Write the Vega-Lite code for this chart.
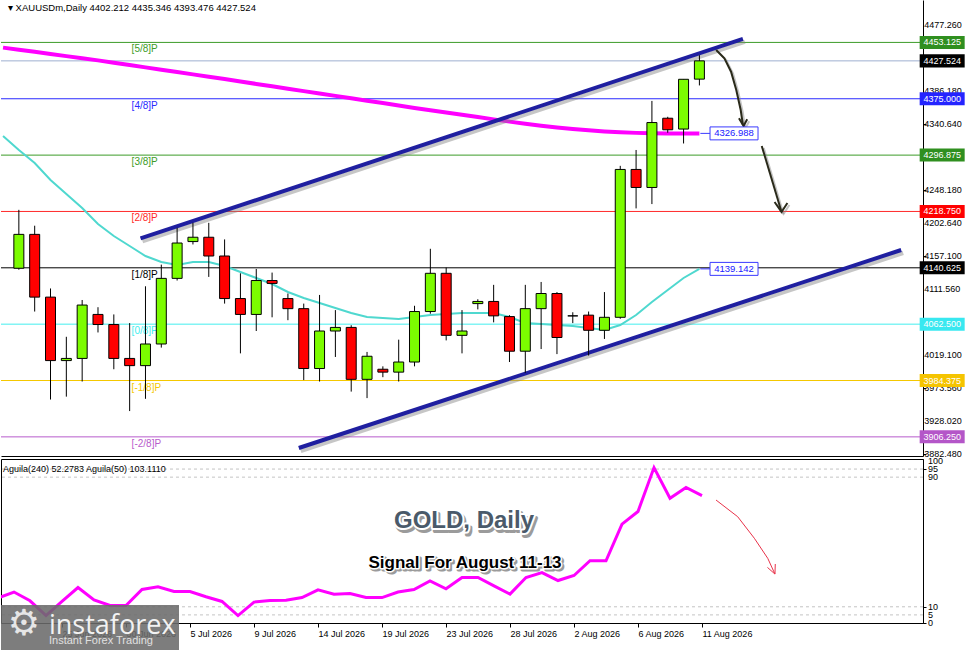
{
"$schema":"https://vega.github.io/schema/vega-lite/v6.json",
"background":"#ffffff",
"padding":0,
"bounds":"flush",
"spacing":3,
"config":{"view":{"stroke":null},"font":"Liberation Sans"},
"datasets":{
"murrey":[
{"lvl":"p5","lab":"[5/8]P","price":4453.125},
{"lvl":"p4","lab":"[4/8]P","price":4375.0},
{"lvl":"p3","lab":"[3/8]P","price":4296.875},
{"lvl":"p2","lab":"[2/8]P","price":4218.75},
{"lvl":"p1","lab":"[1/8]P","price":4140.625},
{"lvl":"p0","lab":"[0/8]P","price":4062.5},
{"lvl":"m1","lab":"[-1/8]P","price":3984.375},
{"lvl":"m2","lab":"[-2/8]P","price":3906.25},
{"lvl":"cur","lab":"","price":4427.524}],
"ylabels":[{"p":4477.26},{"p":4431.72},{"p":4386.18},{"p":4340.64},{"p":4294.4},{"p":4248.18},{"p":4202.64},{"p":4157.1},{"p":4111.56},{"p":4065.3},{"p":4019.1},{"p":3973.56},{"p":3928.02},{"p":3882.48}],
"candles":[
{"i":0,"open":4140,"high":4221,"low":4138,"close":4187},
{"i":1,"open":4187,"high":4199,"low":4080,"close":4100},
{"i":2,"open":4100,"high":4112,"low":3958,"close":4012},
{"i":3,"open":4012,"high":4045,"low":3962,"close":4015},
{"i":4,"open":4015,"high":4096,"low":3983,"close":4089},
{"i":5,"open":4076,"high":4086,"low":4051,"close":4062},
{"i":6,"open":4062,"high":4076,"low":4000,"close":4015},
{"i":7,"open":4015,"high":4064,"low":3942,"close":4005},
{"i":8,"open":4005,"high":4115,"low":3959,"close":4035},
{"i":9,"open":4035,"high":4145,"low":4030,"close":4126},
{"i":10,"open":4126,"high":4196,"low":4123,"close":4175},
{"i":11,"open":4177,"high":4203,"low":4173,"close":4183},
{"i":12,"open":4183,"high":4203,"low":4128,"close":4157},
{"i":13,"open":4157,"high":4180,"low":4091,"close":4098},
{"i":14,"open":4098,"high":4133,"low":4022,"close":4076},
{"i":15,"open":4076,"high":4139,"low":4053,"close":4123},
{"i":16,"open":4123,"high":4134,"low":4072,"close":4119},
{"i":17,"open":4098,"high":4105,"low":4068,"close":4084},
{"i":18,"open":4084,"high":4091,"low":3985,"close":4001},
{"i":19,"open":4001,"high":4103,"low":3983,"close":4053},
{"i":20,"open":4053,"high":4082,"low":4017,"close":4058},
{"i":21,"open":4058,"high":4061,"low":3969,"close":3986},
{"i":22,"open":3986,"high":4024,"low":3960,"close":4018},
{"i":23,"open":4000,"high":4004,"low":3989,"close":3996},
{"i":24,"open":3996,"high":4041,"low":3983,"close":4010},
{"i":25,"open":4010,"high":4088,"low":4004,"close":4080},
{"i":26,"open":4080,"high":4167,"low":4077,"close":4133},
{"i":27,"open":4133,"high":4141,"low":4040,"close":4047},
{"i":28,"open":4047,"high":4082,"low":4022,"close":4053},
{"i":29,"open":4091,"high":4097,"low":4083,"close":4094},
{"i":30,"open":4094,"high":4117,"low":4065,"close":4074},
{"i":31,"open":4073,"high":4075,"low":4010,"close":4025},
{"i":32,"open":4025,"high":4117,"low":3995,"close":4084},
{"i":33,"open":4084,"high":4121,"low":4028,"close":4105},
{"i":34,"open":4105,"high":4107,"low":4021,"close":4044},
{"i":35,"open":4074,"high":4079,"low":4064,"close":4074},
{"i":36,"open":4075,"high":4080,"low":4019,"close":4054},
{"i":37,"open":4054,"high":4107,"low":4042,"close":4072},
{"i":38,"open":4072,"high":4282,"low":4070,"close":4277},
{"i":39,"open":4277,"high":4304,"low":4223,"close":4252},
{"i":40,"open":4252,"high":4372,"low":4229,"close":4342},
{"i":41,"open":4348,"high":4350,"low":4328,"close":4332},
{"i":42,"open":4333,"high":4402,"low":4313,"close":4402},
{"i":43,"open":4402.212,"high":4435.346,"low":4393.476,"close":4427.524}],
"ma":[
{"i":-1,"m":4445.9,"c":4323.4},{"i":0,"m":4443.0,"c":4304.0},{"i":1,"m":4440.1,"c":4285.9},
{"i":2,"m":4437.1,"c":4262.4},{"i":3,"m":4434.1,"c":4243.0},{"i":4,"m":4431.2,"c":4223.6},
{"i":5,"m":4428.2,"c":4201.4},{"i":6,"m":4424.9,"c":4184.7},{"i":7,"m":4421.7,"c":4170.9},
{"i":8,"m":4418.5,"c":4157.0},{"i":9,"m":4415.1,"c":4148.7},{"i":10,"m":4412.0,"c":4144.5},
{"i":11,"m":4408.8,"c":4148.7},{"i":12,"m":4405.6,"c":4148.7},{"i":13,"m":4402.3,"c":4143.1},
{"i":14,"m":4398.9,"c":4134.8},{"i":15,"m":4395.6,"c":4126.5},{"i":16,"m":4392.3,"c":4118.2},
{"i":17,"m":4389.0,"c":4107.1},{"i":18,"m":4385.6,"c":4098.8},{"i":19,"m":4382.3,"c":4091.8},
{"i":20,"m":4379.0,"c":4084.9},{"i":21,"m":4375.6,"c":4078.0},{"i":22,"m":4372.3,"c":4072.4},
{"i":23,"m":4369.0,"c":4071.0},{"i":24,"m":4365.7,"c":4069.7},{"i":25,"m":4362.3,"c":4072.4},
{"i":26,"m":4359.1,"c":4075.2},{"i":27,"m":4356.0,"c":4076.6},{"i":28,"m":4352.8,"c":4078.0},
{"i":29,"m":4349.6,"c":4078.0},{"i":30,"m":4346.4,"c":4078.0},{"i":31,"m":4343.3,"c":4072.4},
{"i":32,"m":4340.4,"c":4064.1},{"i":33,"m":4337.6,"c":4062.7},{"i":34,"m":4335.2,"c":4061.3},
{"i":35,"m":4333.1,"c":4060.0},{"i":36,"m":4331.3,"c":4057.2},{"i":37,"m":4329.7,"c":4054.4},
{"i":38,"m":4328.5,"c":4061.3},{"i":39,"m":4327.7,"c":4075.2},{"i":40,"m":4327.3,"c":4093.2},
{"i":41,"m":4327.0,"c":4109.9},{"i":42,"m":4327.0,"c":4126.5},{"i":43,"m":4326.988,"c":4139.142}],
"trend":[
{"line":"up","i":7.6875,"p":4181.3},{"line":"up","i":45.75,"p":4457.9},
{"line":"lo","i":17.6875,"p":3890.8},{"line":"lo","i":55.75,"p":4165.3}],
"arrows":[
{"a":"a1","o":0,"i":44.06,"p":4442.6},{"a":"a1","o":1,"i":44.58,"p":4431.1},{"a":"a1","o":2,"i":45.0,"p":4412.5},
{"a":"a1","o":3,"i":45.33,"p":4387.1},{"a":"a1","o":4,"i":45.61,"p":4359.4},{"a":"a1","o":5,"i":45.75,"p":4338.6},
{"a":"h1","o":0,"i":45.5,"p":4347.9},{"a":"h1","o":1,"i":45.79,"p":4337.2},{"a":"h1","o":2,"i":46.02,"p":4346.5},
{"a":"a2","o":0,"i":46.94,"p":4309.5},{"a":"a2","o":1,"i":48.19,"p":4218.0},
{"a":"h2","o":0,"i":47.75,"p":4231.9},{"a":"h2","o":1,"i":48.19,"p":4218.0},{"a":"h2","o":2,"i":48.56,"p":4230.5}],
"mabox":[{"val":4326.988},{"val":4139.142}],
"indlabels":[{"lv":100,"t":"100"},{"lv":95,"t":"95"},{"lv":90,"t":"90"},{"lv":10,"t":"10"},{"lv":5,"t":"5"},{"lv":0,"t":"0"}],
"aguila":[
{"i":-1,"v":15.4},{"i":0,"v":19.1},{"i":1,"v":13.7},{"i":2,"v":4.6},{"i":3,"v":13.3},{"i":4,"v":21.9},
{"i":5,"v":14.3},{"i":6,"v":10.8},{"i":7,"v":10.8},{"i":8,"v":20.7},{"i":9,"v":22.3},{"i":10,"v":19.4},
{"i":11,"v":19.4},{"i":12,"v":16.2},{"i":13,"v":13.3},{"i":14,"v":4.6},{"i":15,"v":12.9},{"i":16,"v":13.9},
{"i":17,"v":14.1},{"i":18,"v":15.7},{"i":19,"v":20.5},{"i":20,"v":17.8},{"i":21,"v":18.2},{"i":22,"v":15.7},
{"i":23,"v":15.7},{"i":24,"v":19.1},{"i":25,"v":20.7},{"i":26,"v":26.0},{"i":27,"v":21.1},{"i":28,"v":28.1},
{"i":29,"v":28.1},{"i":30,"v":22.9},{"i":31,"v":17.8},{"i":32,"v":28.1},{"i":33,"v":31.1},{"i":34,"v":26.2},
{"i":35,"v":29.3},{"i":36,"v":38.4},{"i":37,"v":38.4},{"i":38,"v":61.0},{"i":39,"v":68.8},{"i":40,"v":95.9},
{"i":41,"v":77.0},{"i":42,"v":83.6},{"i":43,"v":78.6}],
"redarrow":[
{"a":"r1","o":0,"i":43.875,"v":75.9},{"a":"r1","o":1,"i":45.23,"v":65.6},{"a":"r1","o":2,"i":46.27,"v":52.3},
{"a":"r1","o":3,"i":47.11,"v":39.9},{"a":"r1","o":4,"i":47.56,"v":30.2},
{"a":"rh","o":0,"i":47.09,"v":34.3},{"a":"rh","o":1,"i":47.56,"v":30.2},{"a":"rh","o":2,"i":47.58,"v":36.4}]
},
"vconcat":[
{
"width":922,"height":456,
"layer":[
{"data":{"name":"murrey"},"mark":{"type":"rule","strokeWidth":1},
 "encoding":{
  "y":{"field":"price","type":"quantitative","scale":{"domain":[3879.72,4511.92],"nice":false,"zero":false},"title":null,
   "axis":{"orient":"right","values":[4477.26,4431.72,4386.18,4340.64,4294.4,4248.18,4202.64,4157.1,4111.56,4065.3,4019.1,3973.56,3928.02,3882.48],"labels":false,"tickColor":"#000","tickSize":3,"domainColor":"#000","grid":false,"title":null}},
  "stroke":{"field":"lvl","type":"nominal","scale":{"domain":["p5","p4","p3","p2","p1","p0","m1","m2","cur"],"range":["#3c9c28","#2a2aff","#3c9c28","#ff2a2a","#000000","#44eeee","#f5c800","#b85ccc","#9fb0d0"]},"legend":null}}},
{"data":{"name":"ylabels"},"mark":{"type":"text","color":"#000","fontSize":9,"font":"Liberation Sans","align":"left","baseline":"middle","clip":false},
 "encoding":{"x":{"datum":57.2,"type":"quantitative","scale":{"domain":[-0.8125,56.8125],"nice":false,"zero":false}},
  "y":{"field":"p","type":"quantitative","scale":{"domain":[3879.72,4511.92],"nice":false,"zero":false},"title":null},
  "text":{"field":"p","format":".3f"}}},
{"data":{"name":"murrey"},"transform":[{"filter":"datum.lvl != 'cur'"}],
 "mark":{"type":"text","align":"left","baseline":"middle","dy":7,"fontSize":10,"font":"Liberation Sans"},
 "encoding":{"x":{"datum":7.125,"type":"quantitative","scale":{"domain":[-0.8125,56.8125],"nice":false,"zero":false}},
  "y":{"field":"price","type":"quantitative","scale":{"domain":[3879.72,4511.92],"nice":false,"zero":false},"title":null},
  "text":{"field":"lab"},
  "color":{"field":"lvl","type":"nominal","scale":{"domain":["p5","p4","p3","p2","p1","p0","m1","m2"],"range":["#3c9c28","#2a2aff","#3c9c28","#ff2a2a","#000000","#44eeee","#f5c800","#b85ccc"]},"legend":null}}},
{"data":{"name":"ma"},"mark":{"type":"line","color":"#ff00ff","strokeWidth":4,"clip":true},
 "encoding":{"x":{"field":"i","type":"quantitative","scale":{"domain":[-0.8125,56.8125],"nice":false,"zero":false},"title":null},
  "y":{"field":"m","type":"quantitative","scale":{"domain":[3879.72,4511.92],"nice":false,"zero":false},"title":null}}},
{"data":{"name":"ma"},"mark":{"type":"line","color":"#4fd8cf","strokeWidth":2,"clip":true},
 "encoding":{"x":{"field":"i","type":"quantitative","scale":{"domain":[-0.8125,56.8125],"nice":false,"zero":false},"title":null},
  "y":{"field":"c","type":"quantitative","scale":{"domain":[3879.72,4511.92],"nice":false,"zero":false},"title":null}}},
{"data":{"name":"trend"},"mark":{"type":"line","color":"#808080","opacity":0.45,"strokeWidth":4,"xOffset":2,"yOffset":3,"clip":true},
 "encoding":{"x":{"field":"i","type":"quantitative","scale":{"domain":[-0.8125,56.8125],"nice":false,"zero":false},"title":null},
  "y":{"field":"p","type":"quantitative","scale":{"domain":[3879.72,4511.92],"nice":false,"zero":false},"title":null},
  "detail":{"field":"line"}}},
{"data":{"name":"trend"},"mark":{"type":"line","color":"#1f1fa0","strokeWidth":4,"clip":true},
 "encoding":{"x":{"field":"i","type":"quantitative","scale":{"domain":[-0.8125,56.8125],"nice":false,"zero":false},"title":null},
  "y":{"field":"p","type":"quantitative","scale":{"domain":[3879.72,4511.92],"nice":false,"zero":false},"title":null},
  "detail":{"field":"line"}}},
{"data":{"name":"candles"},"mark":{"type":"rule","color":"#000","strokeWidth":1,"clip":true},
 "encoding":{"x":{"field":"i","type":"quantitative","scale":{"domain":[-0.8125,56.8125],"nice":false,"zero":false},"title":null,
   "axis":{"orient":"bottom","labels":false,"ticks":false,"domain":true,"domainColor":"#000","grid":false,"title":null}},
  "y":{"field":"low","type":"quantitative","scale":{"domain":[3879.72,4511.92],"nice":false,"zero":false},"title":null},
  "y2":{"field":"high"}}},
{"data":{"name":"candles"},"mark":{"type":"bar","size":10,"stroke":"#000","strokeWidth":1,"clip":true},
 "encoding":{"x":{"field":"i","type":"quantitative","scale":{"domain":[-0.8125,56.8125],"nice":false,"zero":false},"title":null},
  "y":{"field":"open","type":"quantitative","scale":{"domain":[3879.72,4511.92],"nice":false,"zero":false},"title":null},
  "y2":{"field":"close"},
  "fill":{"condition":{"test":"datum.close >= datum.open","value":"#7cfc00"},"value":"#ff0000"}}},
{"data":{"name":"arrows"},"mark":{"type":"line","color":"#8a8a8a","opacity":0.5,"strokeWidth":2,"xOffset":2,"yOffset":2},
 "encoding":{"x":{"field":"i","type":"quantitative","scale":{"domain":[-0.8125,56.8125],"nice":false,"zero":false},"title":null},
  "y":{"field":"p","type":"quantitative","scale":{"domain":[3879.72,4511.92],"nice":false,"zero":false},"title":null},
  "detail":{"field":"a"},"order":{"field":"o"}}},
{"data":{"name":"arrows"},"mark":{"type":"line","color":"#2a2a1a","strokeWidth":2},
 "encoding":{"x":{"field":"i","type":"quantitative","scale":{"domain":[-0.8125,56.8125],"nice":false,"zero":false},"title":null},
  "y":{"field":"p","type":"quantitative","scale":{"domain":[3879.72,4511.92],"nice":false,"zero":false},"title":null},
  "detail":{"field":"a"},"order":{"field":"o"}}},
{"data":{"name":"mabox"},"mark":{"type":"rule","color":"#3a3aff","strokeWidth":1},
 "encoding":{"x":{"datum":43.06,"type":"quantitative","scale":{"domain":[-0.8125,56.8125],"nice":false,"zero":false}},"x2":{"datum":43.69},
  "y":{"field":"val","type":"quantitative","scale":{"domain":[3879.72,4511.92],"nice":false,"zero":false},"title":null}}},
{"data":{"name":"mabox"},"mark":{"type":"point","shape":"M-1,-0.27L1,-0.27L1,0.27L-1,0.27Z","size":2304,"filled":true,"fill":"#ffffff","stroke":"#3a3aff","strokeWidth":1,"opacity":1},
 "encoding":{"x":{"datum":45.1875,"type":"quantitative","scale":{"domain":[-0.8125,56.8125],"nice":false,"zero":false}},
  "y":{"field":"val","type":"quantitative","scale":{"domain":[3879.72,4511.92],"nice":false,"zero":false},"title":null}}},
{"data":{"name":"mabox"},"mark":{"type":"text","color":"#2020ff","fontSize":9.5,"font":"Liberation Sans","align":"center","baseline":"middle"},
 "encoding":{"x":{"datum":45.1875,"type":"quantitative","scale":{"domain":[-0.8125,56.8125],"nice":false,"zero":false}},
  "y":{"field":"val","type":"quantitative","scale":{"domain":[3879.72,4511.92],"nice":false,"zero":false},"title":null},
  "text":{"field":"val","format":".3f"}}},
{"data":{"name":"murrey"},"mark":{"type":"point","shape":"M-1,-0.289L1,-0.289L1,0.289L-1,0.289Z","size":2025,"filled":true,"strokeWidth":0,"opacity":1,"clip":false},
 "encoding":{"x":{"datum":58.34,"type":"quantitative","scale":{"domain":[-0.8125,56.8125],"nice":false,"zero":false}},
  "y":{"field":"price","type":"quantitative","scale":{"domain":[3879.72,4511.92],"nice":false,"zero":false},"title":null},
  "fill":{"field":"lvl","type":"nominal","scale":{"domain":["p5","p4","p3","p2","p1","p0","m1","m2","cur"],"range":["#2f8f1f","#2424ff","#2f8f1f","#ff0000","#000000","#38e8f0","#f5c400","#b456c8","#000000"]},"legend":null}}},
{"data":{"name":"murrey"},"mark":{"type":"text","color":"#ffffff","fontSize":9,"font":"Liberation Sans","align":"center","baseline":"middle","clip":false},
 "encoding":{"x":{"datum":58.34,"type":"quantitative","scale":{"domain":[-0.8125,56.8125],"nice":false,"zero":false}},
  "y":{"field":"price","type":"quantitative","scale":{"domain":[3879.72,4511.92],"nice":false,"zero":false},"title":null},
  "text":{"field":"price","format":".3f"}}},
{"data":{"values":[{}]},"mark":{"type":"text","color":"#000","fontSize":9.5,"font":"Liberation Sans","align":"left","baseline":"middle"},
 "encoding":{"x":{"datum":-0.6875,"type":"quantitative","scale":{"domain":[-0.8125,56.8125],"nice":false,"zero":false}},
  "y":{"datum":4500.8,"type":"quantitative","scale":{"domain":[3879.72,4511.92],"nice":false,"zero":false}},
  "text":{"value":"▾ XAUUSDm,Daily  4402.212 4435.346 4393.476 4427.524"}}}
]
},
{
"width":922,"height":164,
"view":{"stroke":"#000"},
"layer":[
{"data":{"values":[{"lv":5},{"lv":10},{"lv":90},{"lv":95}]},"mark":{"type":"rule","color":"#c4c4c4","strokeDash":[3,3],"strokeWidth":1},
 "encoding":{"y":{"field":"lv","type":"quantitative","scale":{"domain":[0,101.2],"nice":false,"zero":false},"title":null,
   "axis":{"orient":"right","values":[0,5,10,90,95,100],"labels":false,"tickColor":"#000","tickSize":3,"domainColor":"#000","grid":false,"title":null}}}},
{"data":{"name":"indlabels"},"mark":{"type":"text","color":"#000","fontSize":9,"font":"Liberation Sans","align":"left","baseline":"middle","clip":false},
 "encoding":{"x":{"datum":57.125,"type":"quantitative","scale":{"domain":[-0.8125,56.8125],"nice":false,"zero":false}},
  "y":{"field":"lv","type":"quantitative","scale":{"domain":[0,101.2],"nice":false,"zero":false},"title":null},
  "text":{"field":"t"}}},
{"data":{"name":"aguila"},"mark":{"type":"line","color":"#ff00ff","strokeWidth":3,"clip":true},
 "encoding":{"x":{"field":"i","type":"quantitative","scale":{"domain":[-0.8125,56.8125],"nice":false,"zero":false},"title":null,
   "axis":{"orient":"bottom","values":[3,7,11,15,19,23,27,31,35,39,43],"labelExpr":"['25 Jun 2026','30 Jun 2026','5 Jul 2026','9 Jul 2026','14 Jul 2026','19 Jul 2026','23 Jul 2026','28 Jul 2026','2 Aug 2026','6 Aug 2026','11 Aug 2026'][round((datum.value-3)/4)]","labelAlign":"left","labelFlush":false,"labelOverlap":false,"labelFont":"Liberation Sans","labelFontSize":9,"labelColor":"#000","tickColor":"#000","tickSize":4,"labelPadding":2,"domainColor":"#000","grid":false,"title":null}},
  "y":{"field":"v","type":"quantitative","scale":{"domain":[0,101.2],"nice":false,"zero":false},"title":null}}},
{"data":{"values":[{}]},"mark":{"type":"text","color":"#000","fontSize":9,"font":"Liberation Sans","align":"left","baseline":"middle"},
 "encoding":{"x":{"datum":-0.6875,"type":"quantitative","scale":{"domain":[-0.8125,56.8125],"nice":false,"zero":false}},
  "y":{"datum":95.0,"type":"quantitative","scale":{"domain":[0,101.2],"nice":false,"zero":false}},
  "text":{"value":"Aguila(240) 52.2783  Aguila(50) 103.1110"}}},
{"data":{"values":[{}]},"mark":{"type":"text","color":"#5a5a5a","opacity":0.6,"stroke":"#5a5a5a","strokeWidth":4,"strokeJoin":"round","fontSize":24,"fontWeight":"bold","font":"Liberation Sans","align":"center","baseline":"middle","dx":2,"dy":3},
 "encoding":{"x":{"datum":28.125,"type":"quantitative","scale":{"domain":[-0.8125,56.8125],"nice":false,"zero":false}},
  "y":{"datum":62.9,"type":"quantitative","scale":{"domain":[0,101.2],"nice":false,"zero":false}},
  "text":{"value":"GOLD, Daily"}}},
{"data":{"values":[{}]},"mark":{"type":"text","color":"#ffffff","stroke":"#ffffff","strokeWidth":4,"strokeJoin":"round","fontSize":24,"fontWeight":"bold","font":"Liberation Sans","align":"center","baseline":"middle"},
 "encoding":{"x":{"datum":28.125,"type":"quantitative","scale":{"domain":[-0.8125,56.8125],"nice":false,"zero":false}},
  "y":{"datum":62.9,"type":"quantitative","scale":{"domain":[0,101.2],"nice":false,"zero":false}},
  "text":{"value":"GOLD, Daily"}}},
{"data":{"values":[{}]},"mark":{"type":"text","color":"#4a5a6a","fontSize":24,"fontWeight":"bold","font":"Liberation Sans","align":"center","baseline":"middle"},
 "encoding":{"x":{"datum":28.125,"type":"quantitative","scale":{"domain":[-0.8125,56.8125],"nice":false,"zero":false}},
  "y":{"datum":62.9,"type":"quantitative","scale":{"domain":[0,101.2],"nice":false,"zero":false}},
  "text":{"value":"GOLD, Daily"}}},
{"data":{"values":[{}]},"mark":{"type":"text","color":"#5a5a5a","opacity":0.6,"stroke":"#5a5a5a","strokeWidth":3,"strokeJoin":"round","fontSize":17,"fontWeight":"bold","font":"Liberation Sans","align":"center","baseline":"middle","dx":2,"dy":2},
 "encoding":{"x":{"datum":28.19,"type":"quantitative","scale":{"domain":[-0.8125,56.8125],"nice":false,"zero":false}},
  "y":{"datum":37.0,"type":"quantitative","scale":{"domain":[0,101.2],"nice":false,"zero":false}},
  "text":{"value":"Signal For August 11-13"}}},
{"data":{"values":[{}]},"mark":{"type":"text","color":"#ffffff","stroke":"#ffffff","strokeWidth":3,"strokeJoin":"round","fontSize":17,"fontWeight":"bold","font":"Liberation Sans","align":"center","baseline":"middle"},
 "encoding":{"x":{"datum":28.19,"type":"quantitative","scale":{"domain":[-0.8125,56.8125],"nice":false,"zero":false}},
  "y":{"datum":37.0,"type":"quantitative","scale":{"domain":[0,101.2],"nice":false,"zero":false}},
  "text":{"value":"Signal For August 11-13"}}},
{"data":{"values":[{}]},"mark":{"type":"text","color":"#000000","fontSize":17,"fontWeight":"bold","font":"Liberation Sans","align":"center","baseline":"middle"},
 "encoding":{"x":{"datum":28.19,"type":"quantitative","scale":{"domain":[-0.8125,56.8125],"nice":false,"zero":false}},
  "y":{"datum":37.0,"type":"quantitative","scale":{"domain":[0,101.2],"nice":false,"zero":false}},
  "text":{"value":"Signal For August 11-13"}}},
{"data":{"name":"redarrow"},"mark":{"type":"line","color":"#e8334a","strokeWidth":1},
 "encoding":{"x":{"field":"i","type":"quantitative","scale":{"domain":[-0.8125,56.8125],"nice":false,"zero":false},"title":null},
  "y":{"field":"v","type":"quantitative","scale":{"domain":[0,101.2],"nice":false,"zero":false},"title":null},
  "detail":{"field":"a"},"order":{"field":"o"}}},
{"data":{"values":[{}]},"mark":{"type":"rect","color":"#6b6b6b","opacity":0.88,"clip":false},
 "encoding":{"x":{"datum":-0.8125,"type":"quantitative","scale":{"domain":[-0.8125,56.8125],"nice":false,"zero":false}},"x2":{"datum":10.3125},
  "y":{"datum":11.1,"type":"quantitative","scale":{"domain":[0,101.2],"nice":false,"zero":false}},"y2":{"datum":-16.7}}},
{"data":{"values":[{}]},"mark":{"type":"text","color":"#e6e6e6","fontSize":36,"font":"DejaVu Sans","align":"center","baseline":"middle","clip":false},
 "encoding":{"x":{"datum":0.625,"type":"quantitative","scale":{"domain":[-0.8125,56.8125],"nice":false,"zero":false}},
  "y":{"datum":-0.6,"type":"quantitative","scale":{"domain":[0,101.2],"nice":false,"zero":false}},
  "text":{"value":"⚙"}}},
{"data":{"values":[{}]},"mark":{"type":"text","color":"#f2f2f2","fontSize":27,"font":"Open Sans","align":"left","baseline":"middle","clip":false},
 "encoding":{"x":{"datum":2.1875,"type":"quantitative","scale":{"domain":[-0.8125,56.8125],"nice":false,"zero":false}},
  "y":{"datum":-1.9,"type":"quantitative","scale":{"domain":[0,101.2],"nice":false,"zero":false}},
  "text":{"value":"instaforex"}}},
{"data":{"values":[{}]},"mark":{"type":"text","color":"#e0e0e0","fontSize":11,"font":"Liberation Sans","align":"left","baseline":"middle","clip":false},
 "encoding":{"x":{"datum":2.1875,"type":"quantitative","scale":{"domain":[-0.8125,56.8125],"nice":false,"zero":false}},
  "y":{"datum":-11.1,"type":"quantitative","scale":{"domain":[0,101.2],"nice":false,"zero":false}},
  "text":{"value":"Instant Forex Trading"}}}
]
}
]
}
